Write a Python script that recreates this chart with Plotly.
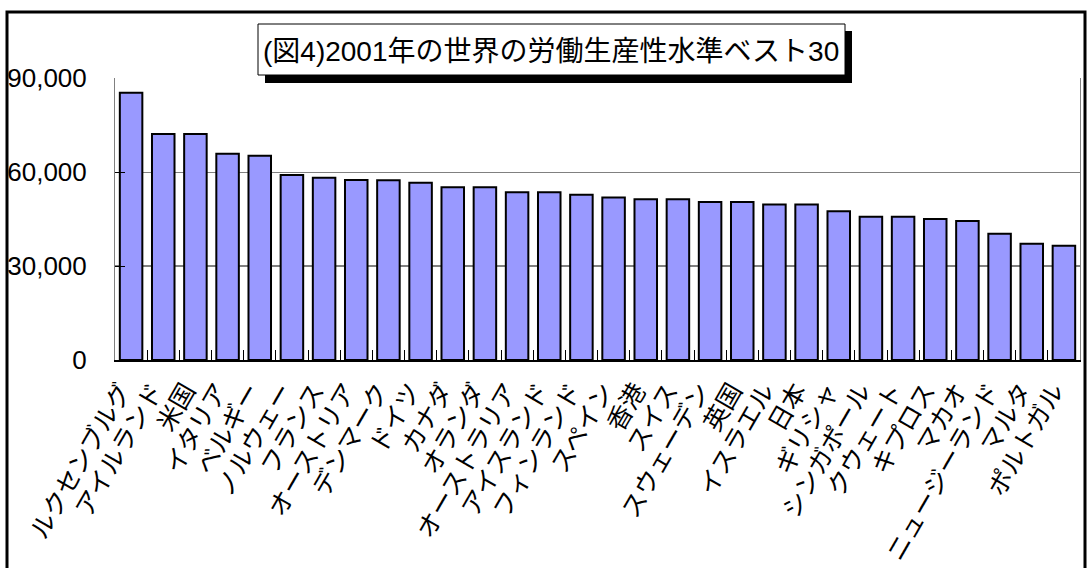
import plotly.graph_objects as go

countries = ["ルクセンブルグ", "アイルランド", "米国", "イタリア", "ベルギー", "ノルウェー",
             "フランス", "オーストリア", "デンマーク", "ドイツ", "カナダ", "オランダ",
             "オーストラリア", "アイスランド", "フィンランド", "スペイン", "香港", "スイス",
             "スウェーデン", "英国", "イスラエル", "日本", "ギリシャ", "シンガポール",
             "クウェート", "キプロス", "マカオ", "ニュージーランド", "マルタ", "ポルトガル"]
productivity = [85300, 72100, 72100, 65850, 65200, 59050, 58200, 57450, 57350, 56600,
                55100, 55100, 53500, 53500, 52770, 51900, 51270, 51270, 50430, 50430,
                49600, 49600, 47440, 45740, 45740, 45000, 44360, 40310, 37120, 36480]
y_ticks = [0, 30000, 60000, 90000]
y_ticklabels = ["0", "30,000", "60,000", "90,000"]
title_text = "(図4)2001年の世界の労働生産性水準ベスト30"

W, H = 1091, 568
L, R, T, B = 115, 1080, 78, 360
FONT = "Liberation Sans, Arial, Noto Sans CJK JP, sans-serif"


def px(x):
    return (x - L) / (R - L)


def py(y):
    return (B - y) / (B - T)


fig = go.Figure()
fig.add_trace(go.Bar(
    x=countries, y=productivity,
    marker=dict(color="#9999FF", line=dict(color="black", width=2)),
))

fig.update_layout(
    width=W, height=H,
    margin=dict(l=L, r=W - R, t=T, b=H - B, autoexpand=False),
    paper_bgcolor="white", plot_bgcolor="white",
    bargap=0.3, showlegend=False,
    font=dict(family=FONT, color="black"),
)
fig.update_yaxes(
    range=[0, 90000], tickvals=y_ticks, ticktext=y_ticklabels,
    showgrid=True, gridcolor="#808080", gridwidth=1,
    ticks="inside", ticklen=10, tickcolor="black", tickwidth=1,
    tickfont=dict(size=26, family=FONT), ticklabelstandoff=22,
    showline=True, linecolor="#808080", linewidth=1, mirror=True,
    zeroline=False, automargin=False,
)
fig.update_xaxes(
    tickangle=-60, tickfont=dict(size=25, family=FONT),
    ticks="inside", ticklen=10, tickcolor="black", tickson="boundaries",
    showline=True, linecolor="black", linewidth=2,
    ticklabelstandoff=4, ticklabelshift=-10, automargin=False,
)
# black 30,000 gridline
fig.add_hline(y=30000, line=dict(color="black", width=1), layer="below")

# outer frame
fig.add_shape(type="rect", xref="paper", yref="paper",
              x0=px(7), x1=px(1085), y0=py(580), y1=py(12),
              line=dict(color="black", width=3), fillcolor="rgba(0,0,0,0)", layer="above")
# title shadow and box
fig.add_shape(type="rect", xref="paper", yref="paper",
              x0=px(265), x1=px(852), y0=py(83), y1=py(31),
              line=dict(width=0), fillcolor="black", layer="above")
fig.add_shape(type="rect", xref="paper", yref="paper",
              x0=px(258), x1=px(845), y0=py(75), y1=py(24),
              line=dict(color="black", width=1), fillcolor="white", layer="above")
fig.add_annotation(text=title_text, xref="paper", yref="paper",
                   x=px(551), y=py(51), showarrow=False,
                   font=dict(size=28, family=FONT, color="black"),
                   xanchor="center", yanchor="middle")

fig.write_html("out.html")
